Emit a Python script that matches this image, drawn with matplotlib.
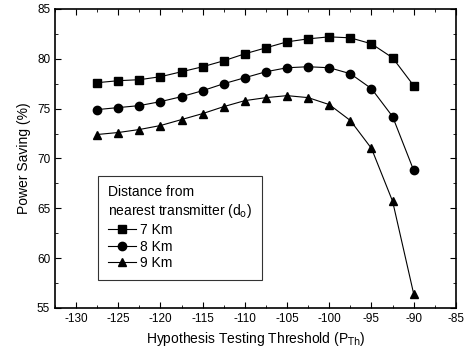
import matplotlib
matplotlib.use("Agg")
import matplotlib.pyplot as plt
from matplotlib.ticker import MultipleLocator

plt.rcParams['font.family'] = ['Liberation Sans', 'DejaVu Sans']
plt.rcParams['axes.unicode_minus'] = False

# hypothesis testing threshold values
threshold = [-127.5, -125, -122.5, -120, -117.5, -115, -112.5, -110,
             -107.5, -105, -102.5, -100, -97.5, -95, -92.5, -90]

# power saving (%) per distance
saving_7km = [77.6, 77.8, 77.9, 78.2, 78.7, 79.2, 79.8, 80.5,
              81.1, 81.7, 82.0, 82.2, 82.1, 81.5, 80.1, 77.3]
saving_8km = [74.9, 75.1, 75.3, 75.7, 76.2, 76.8, 77.5, 78.1,
              78.7, 79.1, 79.2, 79.1, 78.5, 77.0, 74.2, 68.8]
saving_9km = [72.4, 72.6, 72.9, 73.3, 73.9, 74.5, 75.2, 75.8,
              76.1, 76.3, 76.1, 75.4, 73.8, 71.0, 65.7, 56.4]

labels = ['7 Km', '8 Km', '9 Km']
markers = ['s', 'o', '^']

fig = plt.figure(figsize=(4.7, 3.58), dpi=100)
ax = fig.add_axes([0.117, 0.140, 0.853, 0.835])

for ys, lab, m in zip([saving_7km, saving_8km, saving_9km], labels, markers):
    ax.plot(threshold, ys, color='black', lw=0.8, marker=m, markersize=6, label=lab)

ax.set_xlim(-132.5, -85)
ax.set_ylim(55, 85)
ax.xaxis.set_major_locator(MultipleLocator(5))
ax.xaxis.set_minor_locator(MultipleLocator(2.5))
ax.yaxis.set_major_locator(MultipleLocator(5))
ax.yaxis.set_minor_locator(MultipleLocator(2.5))
ax.tick_params(which='both', direction='in', top=True, right=True, labelsize=8.5)
ax.tick_params(which='major', length=4)
ax.tick_params(which='minor', length=2)
for s in ax.spines.values():
    s.set_linewidth(1.2)

ax.set_xlabel('Hypothesis Testing Threshold (P$_{\\mathrm{Th}}$)', fontsize=10)
ax.set_ylabel('Power Saving (%)', fontsize=10)

leg = ax.legend(title='Distance from\nnearest transmitter (d$_{\\mathrm{o}}$)',
                loc='lower left', bbox_to_anchor=(0.09, 0.07),
                fontsize=10, title_fontsize=10, frameon=True, fancybox=False,
                edgecolor='black', handlelength=2.0, borderpad=0.7,
                labelspacing=0.2, handletextpad=0.3)
leg._legend_box.align = 'left'
leg.get_frame().set_linewidth(0.8)

fig.savefig('out.png', dpi=100)
